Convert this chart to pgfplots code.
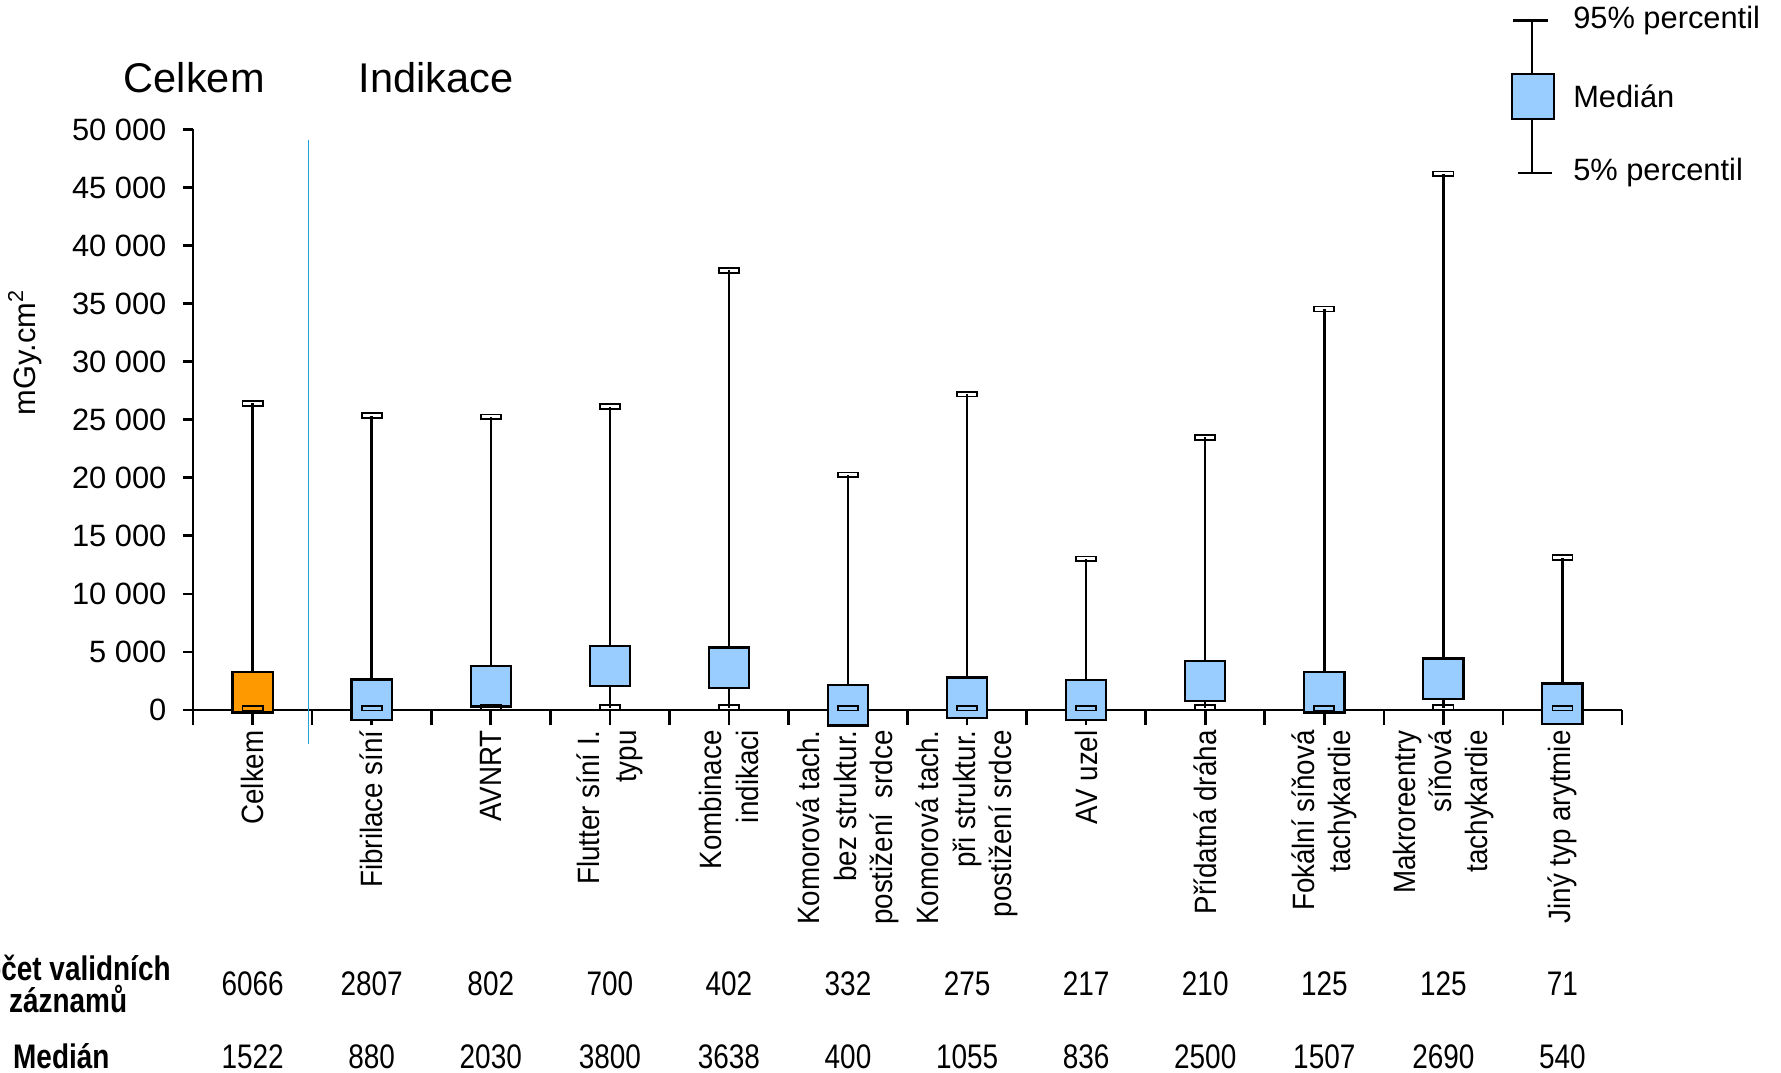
\documentclass[border=0pt]{standalone}
\usepackage{fontspec}
\setmainfont{Liberation Sans}
\newfontfamily\narrowfont[FakeStretch=0.82]{Liberation Sans}
\newfontfamily\labfont[FakeStretch=0.9]{Liberation Sans}
\usepackage{pgfplots}
\pgfplotsset{compat=1.18}
\usepackage{pgfplotstable}
\definecolor{boxblue}{HTML}{99CCFF}
\definecolor{boxorange}{HTML}{FF9900}
\definecolor{sepblue}{HTML}{1FA3D3}

\pgfdeclareplotmark{capbox}{%
  \pgfpathrectangle{\pgfqpoint{-3.1pt}{-0.75pt}}{\pgfqpoint{6.2pt}{1.5pt}}%
  \pgfusepathqstroke}

\pgfplotstableread{
x p5 med p95
1 150 1522 26420
2 150 880 25340
3 200 2030 25240
4 200 3800 26130
5 200 3638 37870
6 150 400 20250
7 150 1055 27200
8 150 836 13010
9 200 2500 23480
10 150 1507 34540
11 200 2690 46180
12 150 540 13110
}\stats

\begin{document}
\begin{tikzpicture}
\path[use as bounding box] (-59.5pt,-111.65pt) rectangle (489.3pt,218.75pt);
\begin{axis}[
  at={(0pt,0pt)}, anchor=south west,
  scale only axis, width=440.3pt, height=178.85pt,
  xmin=0.5, xmax=12.5, ymin=0, ymax=50000,
  axis lines=left, axis line style={-, line width=0.8pt, black},
  clip=false,
  tick align=outside,
  major tick length=3.2pt,
  every tick/.style={black, line width=0.8pt},
  xtick={0.5,1.5,2.5,3.5,4.5,5.5,6.5,7.5,8.5,9.5,10.5,11.5,12.5},
  xticklabels={},
  xtick style={/pgfplots/major tick length=4.8pt},
  extra x ticks={1,2,3,4,5,6,7,8,9,10,11,12},
  extra x tick labels={Celkem, Fibrilace síní, AVNRT, {Flutter síní I.\\typu}, {Kombinace\\indikaci}, {Komorová tach.\\bez struktur.\\postižení\ \ srdce}, {Komorová tach.\\při struktur.\\postižení srdce}, AV uzel, Přídatná dráha, {Fokální síňová\\tachykardie}, {Makroreentry\\síňová\\tachykardie}, Jiný typ arytmie},
  extra x tick style={/pgfplots/major tick length=0pt, tick label style={rotate=90, anchor=east, align=right, font=\labfont\fontsize{9.5}{11.2}\selectfont, xshift=-2.8pt}},
  scaled y ticks=false,
  ytick={0,5000,10000,15000,20000,25000,30000,35000,40000,45000,50000},
  yticklabels={0,5 000,10 000,15 000,20 000,25 000,30 000,35 000,40 000,45 000,50 000},
  /pgf/number format/assume math mode=true,
  yticklabel style={font=\fontsize{9.5}{11}\selectfont, xshift=-1.5pt},
]
\addplot[draw=none, mark=none, forget plot,
  error bars/.cd, y dir=both, y explicit, error mark=none,
  error bar style={draw=black, solid, line width=0.75pt}]
  table[x=x, y=med, y error plus expr=\thisrow{p95}-\thisrow{med}, y error minus expr=\thisrow{med}-\thisrow{p5}] {\stats};
\addplot[only marks, mark=square*, mark size=6.2pt, restrict x to domain=1:1,
  mark options={fill=boxorange, draw=black, line width=0.7pt}]
  table[x=x, y=med] {\stats};
\addplot[only marks, mark=square*, mark size=6.2pt, restrict x to domain=2:12,
  mark options={fill=boxblue, draw=black, line width=0.7pt}]
  table[x=x, y=med] {\stats};
\addplot[only marks, mark=capbox, mark options={draw=black, line width=0.55pt}]
  table[x=x, y=p95] {\stats};
\addplot[only marks, mark=capbox, mark options={draw=black, line width=0.55pt}]
  table[x=x, y=p5] {\stats};
\draw[sepblue, line width=0.5pt] (axis cs:1.47,49100) -- (axis cs:1.47,-2900);
\end{axis}
% titles
\node[font=\fontsize{12.8}{15}\selectfont] at (0.35pt,194.95pt) {Celkem};
\node[font=\fontsize{12.8}{15}\selectfont] at (74.9pt,194.95pt) {Indikace};
% y label
\node[rotate=90, font=\fontsize{9.5}{11}\selectfont] at (-51.8pt,110.25pt) {mGy.cm\textsuperscript{2}};
% table rows
\foreach \v [count=\i] in {6066,2807,802,700,402,332,275,217,210,125,125,71}
  \node[font=\narrowfont\fontsize{10.5}{12}\selectfont] at ({(\i-0.5)*36.692pt},-84.35pt) {\v};
\foreach \v [count=\i] in {1522,880,2030,3800,3638,400,1055,836,2500,1507,2690,540}
  \node[font=\narrowfont\fontsize{10.5}{12}\selectfont] at ({(\i-0.5)*36.692pt},-106.75pt) {\v};
\node[font=\narrowfont\bfseries\fontsize{10.5}{9.8}\selectfont, align=center] at (-38.5pt,-84.35pt) {Počet validních\\záznamů};
\node[font=\narrowfont\bfseries\fontsize{10.5}{12}\selectfont] at (-40.6pt,-106.75pt) {Medián};
% legend
\draw[black, line width=0.7pt] (412.65pt,212.45pt) -- (412.65pt,165.55pt);
\draw[black, line width=0.7pt] (406.7pt,212.45pt) -- (417.55pt,212.45pt);
\draw[black, line width=0.7pt] (408.1pt,165.55pt) -- (418.6pt,165.55pt);
\draw[black, line width=0.6pt, fill=boxblue] (406.35pt,182pt) rectangle (419.3pt,196pt);
\node[anchor=west, font=\fontsize{9.5}{11}\selectfont] at (421.75pt,212.45pt) {95\% percentil};
\node[anchor=west, font=\fontsize{9.5}{11}\selectfont] at (421.75pt,189pt) {Medián};
\node[anchor=west, font=\fontsize{9.5}{11}\selectfont] at (421.75pt,165.55pt) {5\% percentil};
\end{tikzpicture}
\end{document}
